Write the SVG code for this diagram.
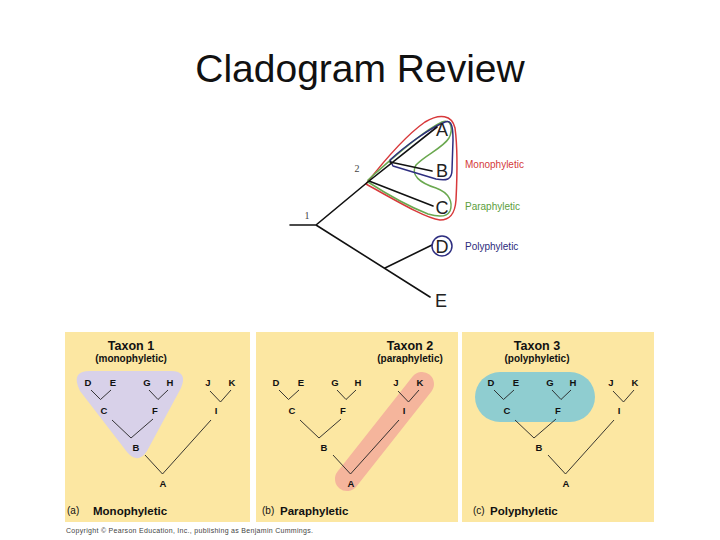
<svg xmlns="http://www.w3.org/2000/svg" width="720" height="540" viewBox="0 0 720 540">
<style>
.title{font-family:"Liberation Sans",Arial,sans-serif;font-size:39px;fill:#111;}
.big{font-family:"Liberation Sans",Arial,sans-serif;font-size:18px;fill:#222;text-anchor:middle;}
.num{font-family:"Liberation Serif","Times New Roman",serif;font-size:10px;fill:#444;text-anchor:middle;}
.lbl{font-family:"Liberation Sans",Arial,sans-serif;font-size:10px;}
.panel{fill:#fce7a2;}
.tx{font-family:"Liberation Sans",Arial,sans-serif;font-weight:bold;fill:#111;text-anchor:middle;}
.t1{font-size:12.5px;}
.t2{font-size:10px;}
.lf{font-family:"Liberation Sans",Arial,sans-serif;font-weight:bold;font-size:9.5px;fill:#111;text-anchor:middle;}
.cap{font-family:"Liberation Sans",Arial,sans-serif;font-size:10px;fill:#111;}
.capb{font-family:"Liberation Sans",Arial,sans-serif;font-size:11.5px;font-weight:bold;fill:#111;}
.br{stroke:#111;stroke-width:1.6;fill:none;stroke-linecap:round;}
.tr{stroke:#222;stroke-width:0.9;fill:none;}
.copy{font-family:"Liberation Sans",Arial,sans-serif;font-size:7px;fill:#444;}
</style>
<defs>
<g id="tree">
<path class="tr" d="M91,390 L100.5,399.5 L111,390 M149,390 L158,399.5 L168,390 M210,391 L220.5,402 L231,390 M112,420 L131,438 L153,419 M145,455 L162.5,474 L211,420"/>
</g>
<g id="letters">
<text class="lf" x="88" y="386">D</text>
<text class="lf" x="113" y="386">E</text>
<text class="lf" x="147" y="386">G</text>
<text class="lf" x="170" y="386">H</text>
<text class="lf" x="208" y="386">J</text>
<text class="lf" x="232" y="386">K</text>
<text class="lf" x="104" y="414">C</text>
<text class="lf" x="155" y="414">F</text>
<text class="lf" x="216" y="414">I</text>
<text class="lf" x="136" y="451">B</text>
<text class="lf" x="163" y="487">A</text>
</g>
</defs>
<rect width="720" height="540" fill="#fff"/>
<text class="title" x="360" y="82" text-anchor="middle">Cladogram Review</text>

<!-- upper cladogram -->
<g id="groupings" fill="none" stroke-width="1.5" stroke-linejoin="round">
<path stroke="#d8393b" d="M366,184 C380,166 405,136 425,122 C440,113 452,115 455,128 C458,150 457,180 456,200 C455,214 450,220 440,220 C425,218 395,200 366,184 Z"/>
<path stroke="#6aa84f" d="M368,180 C390,160 425,130 442,122 C452,118 453,130 449,138 C443,148 425,155 416,165 C410,175 420,183 436,188 C450,193 453,203 450,211 C447,217 438,217 428,214 C410,207 385,193 368,182 Z"/>
<path stroke="#2e2e80" d="M390,160 C405,146 430,128 445,122 C452,119 453,128 453,140 L452,170 C452,180 446,181 436,179 L393,166 Z"/>
</g>
<g id="connectors">
<path class="br" d="M290,225 L316,225 L369,181 L437,127 M316,225 L430,297 M385,268 L432,245 M369,181 L433,206 M390,162 L432,171"/>
</g>
<g id="node-1"><text class="num" x="307" y="219">1</text></g>
<g id="node-2"><text class="num" x="357" y="172">2</text></g>
<g id="node-A"><text class="big" x="442" y="136">A</text></g>
<g id="node-B"><text class="big" x="442" y="177">B</text></g>
<g id="node-C"><text class="big" x="442" y="214">C</text></g>
<g id="node-D"><circle cx="442" cy="246" r="10" fill="none" stroke="#2e2e80" stroke-width="1.5"/><text class="big" x="442" y="253">D</text></g>
<g id="node-E"><text class="big" x="441" y="307">E</text></g>
<g id="legend">
<text class="lbl" x="465" y="168" fill="#d43a3a">Monophyletic</text>
<text class="lbl" x="465" y="210" fill="#5c9e3c">Paraphyletic</text>
<text class="lbl" x="465" y="250" fill="#2b2b7b">Polyphyletic</text>
</g>

<!-- panel a -->
<g id="panel-a">
<rect class="panel" x="65" y="332" width="185" height="190"/>
<path fill="#d8d1e9" d="M90,371 L171,371 Q188,371 181,388 L147,451 Q138,465 127,452 L80,391 Q70,371 90,371 Z"/>
<use href="#tree"/>
<use href="#letters"/>
<text class="tx t1" x="131" y="350">Taxon 1</text>
<text class="tx t2" x="131" y="362">(monophyletic)</text>
<text class="cap" x="67" y="514">(a)</text>
<text class="capb" x="93" y="515">Monophyletic</text>
</g>

<!-- panel b -->
<g id="panel-b">
<rect class="panel" x="256" y="332" width="202" height="190"/>
<line x1="422" y1="384" x2="347" y2="479" stroke="#f5b59c" stroke-width="24" stroke-linecap="round"/>
<g transform="translate(188,0)"><use href="#tree"/><use href="#letters"/></g>
<text class="tx t1" x="410" y="350">Taxon 2</text>
<text class="tx t2" x="410" y="362">(paraphyletic)</text>
<text class="cap" x="262" y="514">(b)</text>
<text class="capb" x="280" y="515">Paraphyletic</text>
</g>

<!-- panel c -->
<g id="panel-c">
<rect class="panel" x="462" y="332" width="192" height="190"/>
<rect x="475" y="372" width="120" height="50" rx="25" fill="#8fcdd0"/>
<g transform="translate(403,0)"><use href="#tree"/><use href="#letters"/></g>
<text class="tx t1" x="537" y="350">Taxon 3</text>
<text class="tx t2" x="537" y="362">(polyphyletic)</text>
<text class="cap" x="473" y="514">(c)</text>
<text class="capb" x="490" y="515">Polyphyletic</text>
</g>

<text class="copy" x="66" y="533" textLength="247">Copyright © Pearson Education, Inc., publishing as Benjamin Cummings.</text>
</svg>
